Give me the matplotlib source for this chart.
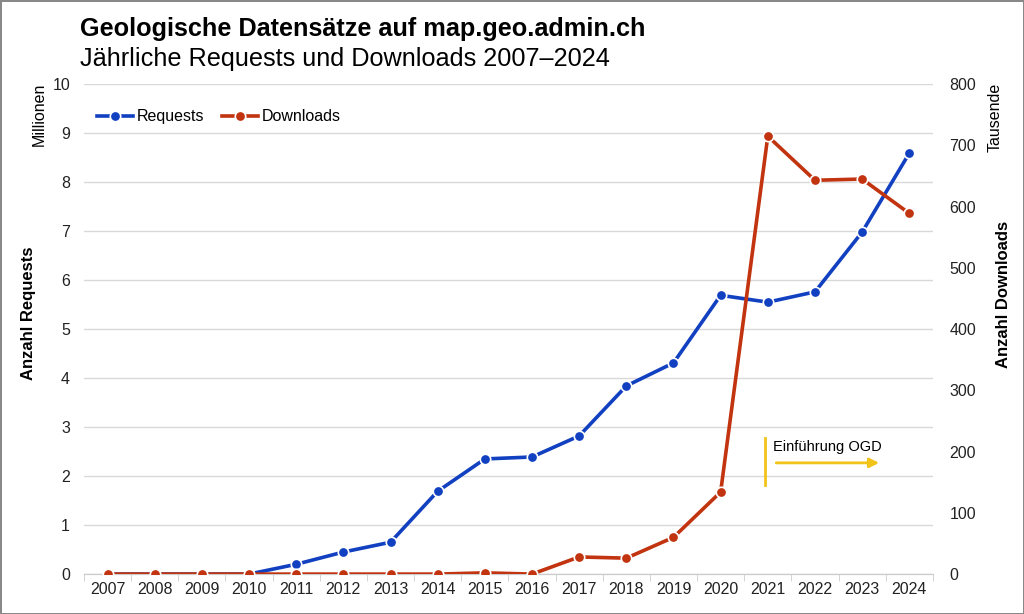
import matplotlib.pyplot as plt
import numpy as np

plt.rcParams['font.family'] = ['Liberation Sans', 'DejaVu Sans']

# Data
years = ["2007", "2008", "2009", "2010", "2011", "2012", "2013", "2014", "2015",
         "2016", "2017", "2018", "2019", "2020", "2021", "2022", "2023", "2024"]

# Requests in millions
requests = [0, 0, 0, 0, 0.2, 0.45, 0.65, 1.69, 2.35,
            2.39, 2.82, 3.84, 4.31, 5.69, 5.55, 5.76, 6.98, 8.59]

# Downloads in thousands
downloads = [0, 0, 0, 0, 0, 0, 0, 0, 2,
             0, 28, 26, 60, 134, 715, 643, 645, 589]

blue = "#1140c0"
red = "#c2330f"
gold = "#f2c318"

x = np.arange(len(years))

fig = plt.figure(figsize=(10.24, 6.14), dpi=100)
fig.patch.set_edgecolor("#888888")
fig.patch.set_linewidth(2)
ax = fig.add_axes([0.082, 0.065, 0.829, 0.798])
ax2 = ax.twinx()

ax.plot(x, requests, color=blue, lw=2.6, marker="o", ms=7.5,
        mec="white", mew=1.2, label="Requests", zorder=4)
ax2.plot(x, downloads, color=red, lw=2.6, marker="o", ms=7.5,
         mec="white", mew=1.2, label="Downloads", zorder=3)

ax.set_xlim(-0.5, len(years) - 0.5)
ax.set_ylim(0, 10)
ax2.set_ylim(0, 800)
ax.set_yticks(range(0, 11))
ax2.set_yticks(range(0, 801, 100))
ax.set_xticks(x)
ax.set_xticklabels(years)
ax.set_xticks(np.arange(-0.5, len(years), 1), minor=True)

ax.grid(axis="y", color="#d9d9d9", lw=1)
ax.set_axisbelow(True)
for a in (ax, ax2):
    for s in ("top", "left", "right"):
        a.spines[s].set_visible(False)
    a.spines["bottom"].set_color("#cccccc")
ax.tick_params(axis="y", length=0, labelsize=11.5, pad=10, colors="#222222")
ax2.tick_params(axis="y", length=0, labelsize=11.5, pad=12, colors="#222222")
ax.tick_params(axis="x", which="major", length=0, labelsize=11.5, pad=6, colors="#222222")
ax.tick_params(axis="x", which="minor", length=5, color="#cccccc")

# Axis titles
fig.text(0.038, 0.865, "Millionen", rotation=90, ha="center", va="top", fontsize=11.5)
fig.text(0.028, 0.49, "Anzahl Requests", rotation=90, ha="center", va="center",
         fontsize=12, fontweight="bold")
fig.text(0.972, 0.865, "Tausende", rotation=90, ha="center", va="top", fontsize=11.5)
fig.text(0.980, 0.52, "Anzahl Downloads", rotation=90, ha="center", va="center",
         fontsize=12, fontweight="bold")

# Titles
fig.text(0.078, 0.952, "Geologische Datensätze auf map.geo.admin.ch",
         fontsize=18.2, fontweight="bold", va="center")
fig.text(0.078, 0.904, "Jährliche Requests und Downloads 2007–2024",
         fontsize=18.2, va="center")

# Annotation for OGD
ax.plot([13.95, 13.95], [1.82, 2.78], color=gold, lw=2)
ax.annotate("", xy=(16.42, 2.27), xytext=(14.12, 2.27),
            arrowprops=dict(arrowstyle="-|>", color=gold, lw=2, mutation_scale=14))
ax.text(14.12, 2.6, "Einführung OGD", fontsize=10.5, va="center", ha="left")

# Legend
h1, l1 = ax.get_legend_handles_labels()
h2, l2 = ax2.get_legend_handles_labels()
ax2.legend(h1 + h2, l1 + l2, loc="upper left", bbox_to_anchor=(0.0, 0.975),
           frameon=False, ncol=2, fontsize=11.5, handlelength=2.3,
           handletextpad=0.2, columnspacing=1.1, borderaxespad=0.4)

fig.savefig("out.png", dpi=100)
